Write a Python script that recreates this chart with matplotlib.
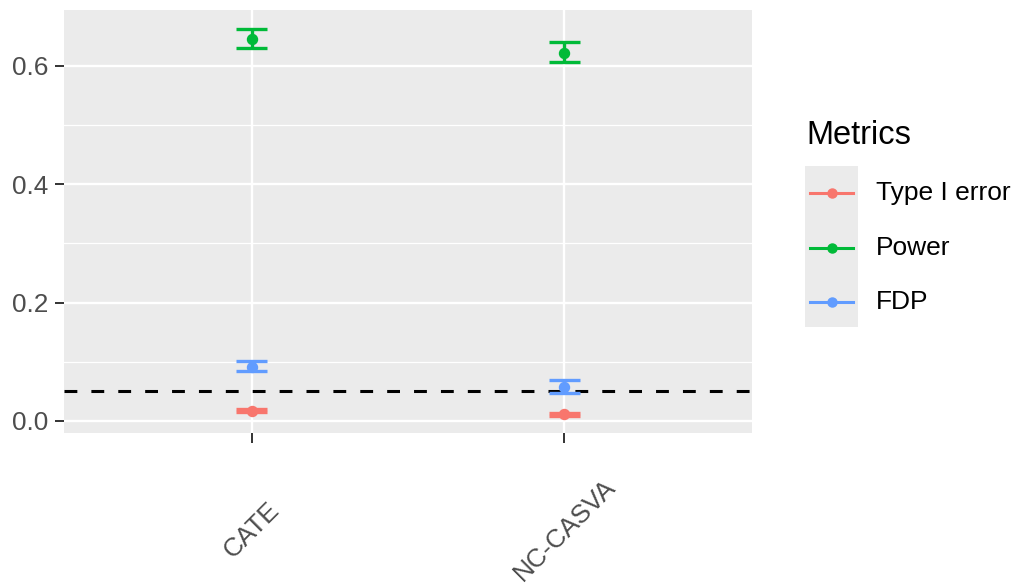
import matplotlib
matplotlib.use("Agg")
import matplotlib.pyplot as plt
from matplotlib.lines import Line2D
from matplotlib.patches import Rectangle

plt.rcParams['font.family'] = ['Liberation Sans', 'DejaVu Sans']

methods = ["CATE", "NC-CASVA"]
metrics = ["Type I error", "Power", "FDP"]
colors = ["#F8766D", "#00BA38", "#619CFF"]

# mean, lower, upper for each metric, one entry per method
means = {
    "Type I error": [0.017, 0.011],
    "Power": [0.645, 0.622],
    "FDP": [0.092, 0.058],
}
lowers = {
    "Type I error": [0.0145, 0.0085],
    "Power": [0.630, 0.606],
    "FDP": [0.084, 0.047],
}
uppers = {
    "Type I error": [0.0195, 0.0135],
    "Power": [0.662, 0.640],
    "FDP": [0.101, 0.070],
}
alpha_level = 0.05

fig = plt.figure(figsize=(10.21, 5.86), dpi=100)
ax = fig.add_axes([0.0627, 0.2611, 0.674, 0.7218])
ax.set_facecolor("#EBEBEB")
for s in ax.spines.values():
    s.set_visible(False)

x = [1, 2]
ax.set_xlim(0.4, 2.6)
ax.set_ylim(-0.0203, 0.6943)

# ggplot-style grid
for yv in [0.1, 0.3, 0.5]:
    ax.axhline(yv, color="white", lw=0.9, zorder=0)
for yv in [0.0, 0.2, 0.4, 0.6]:
    ax.axhline(yv, color="white", lw=1.7, zorder=0)
for xv in x:
    ax.axvline(xv, color="white", lw=1.7, zorder=0)

ax.axhline(alpha_level, color="black", lw=2.2, linestyle=(0, (4.2, 4.6)), zorder=1)

half = 0.05
for m, c in zip(metrics, colors):
    ax.vlines(x, lowers[m], uppers[m], color=c, lw=2.4, zorder=2)
    ax.hlines(lowers[m], [v - half for v in x], [v + half for v in x], color=c, lw=2.4, zorder=2)
    ax.hlines(uppers[m], [v - half for v in x], [v + half for v in x], color=c, lw=2.4, zorder=2)
    ax.plot(x, means[m], "o", color=c, ms=7.2, zorder=3)

ax.set_yticks([0.0, 0.2, 0.4, 0.6])
ax.set_yticklabels(["0.0", "0.2", "0.4", "0.6"])
ax.set_xticks(x)
ax.set_xticklabels(methods)
ax.tick_params(axis="y", length=6.5, width=1.4, color="#333333", labelcolor="#4D4D4D",
               labelsize=18.8, pad=5)
ax.tick_params(axis="x", length=7, width=1.4, color="#333333", labelcolor="#4D4D4D",
               labelsize=18.8, pad=63)
plt.setp(ax.get_xticklabels(), rotation=45, ha="center", va="center", rotation_mode="anchor")

# legend drawn by hand so the keys sit on a grey panel
fig.text(806 / 1021, 1 - 135 / 586, "Metrics", fontsize=23.5, va="center", ha="left")
fig.add_artist(Rectangle((805 / 1021, 1 - 327 / 586), 53 / 1021, 161 / 586,
                         transform=fig.transFigure, facecolor="#EBEBEB", edgecolor="none"))
key_y = [193, 248, 302]
for m, c, ky in zip(metrics, colors, key_y):
    yf = 1 - ky / 586
    fig.add_artist(Line2D([810 / 1021, 853 / 1021], [yf, yf], transform=fig.transFigure,
                          color=c, lw=2.2))
    fig.add_artist(Line2D([831.5 / 1021], [yf], transform=fig.transFigure, color=c,
                          marker="o", ms=6.5, lw=0))
    fig.text(876 / 1021, yf, m, fontsize=19.0, va="center", ha="left")

fig.savefig("out.png", dpi=100)
